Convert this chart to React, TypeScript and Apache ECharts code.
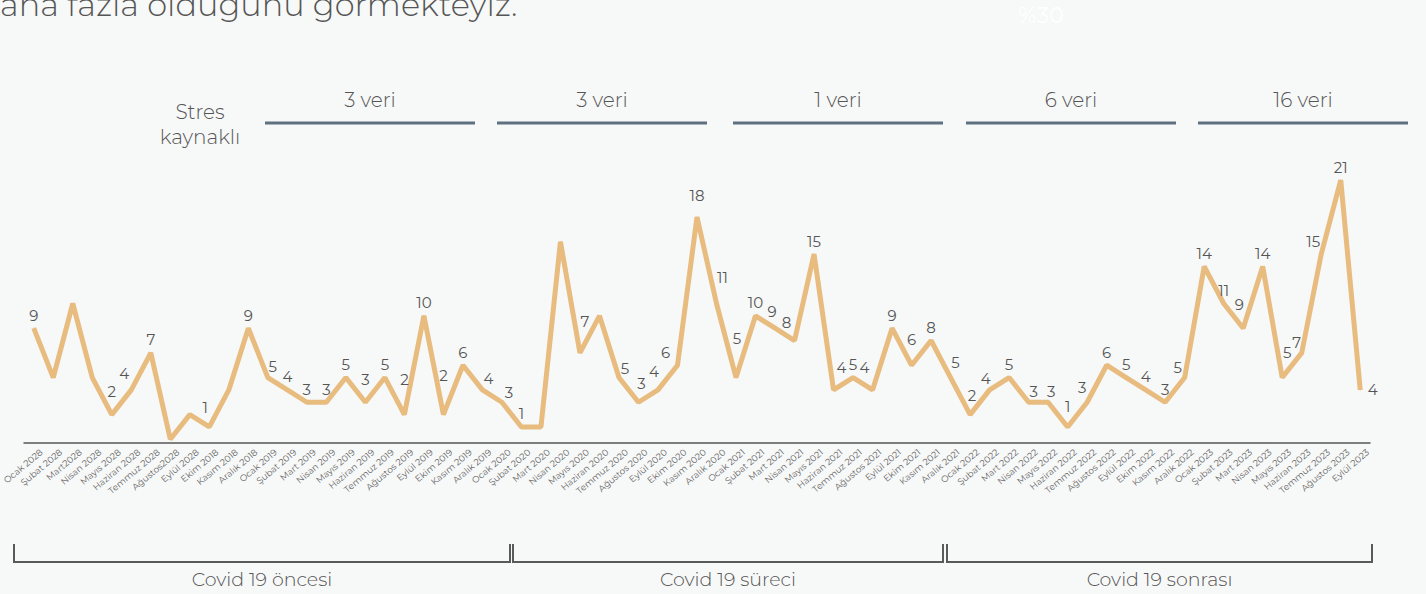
import React, { useEffect, useRef } from "react";
import * as echarts from "echarts";

const months: string[] = [
  "Ocak 2028", "Şubat 2028", "Mart2028", "Nisan 2028", "Mayıs 2028", "Haziran 2028", "Temmuz 2028", "Ağustos2028", "Eylül 2028", "Ekim 2018", "Kasım 2018", "Aralık 2018",
  "Ocak 2019", "Şubat 2019", "Mart 2019", "Nisan 2019", "Mayıs 2019", "Haziran 2019", "Temmuz 2019", "Ağustos 2019", "Eylül 2019", "Ekim 2019", "Kasım 2019", "Aralık 2019",
  "Ocak 2020", "Şubat 2020", "Mart 2020", "Nisan 2020", "Mayıs 2020", "Haziran 2020", "Temmuz 2020", "Ağustos 2020", "Eylül 2020", "Ekim 2020", "Kasım 2020", "Aralık 2020",
  "Ocak 2021", "Şubat 2021", "Mart 2021", "Nisan 2021", "Mayıs 2021", "Haziran 2021", "Temmuz 2021", "Ağustos 2021", "Eylül 2021", "Ekim 2021", "Kasım 2021", "Aralık 2021",
  "Ocak 2022", "Şubat 2022", "Mart 2022", "Nisan 2022", "Mayıs 2022", "Haziran 2022", "Temmuz 2022", "Ağustos 2022", "Eylül 2022", "Ekim 2022", "Kasım 2022", "Aralık 2022",
  "Ocak 2023", "Şubat 2023", "Mart 2023", "Nisan 2023", "Mayıs 2023", "Haziran 2023", "Temmuz 2023", "Ağustos 2023", "Eylül 2023",
];

const values2018: number[] = [9, 5, 11, 5, 2, 4, 7, 0, 2, 1, 4, 9];
const values2019: number[] = [5, 4, 3, 3, 5, 3, 5, 2, 10, 2, 6, 4];
const values2020: number[] = [3, 1, 1, 16, 7, 10, 5, 3, 4, 6, 18, 11];
const values2021: number[] = [5, 10, 9, 8, 15, 4, 5, 4, 9, 6, 8, 5];
const values2022: number[] = [2, 4, 5, 3, 3, 1, 3, 6, 5, 4, 3, 5];
const values2023: number[] = [14, 11, 9, 14, 5, 7, 15, 21, 4];

// points whose value label is not shown in the reference
const unlabeled: number[] = [1, 2, 3, 7, 8, 10, 26, 27, 29];

const groupHeaders: string[] = ["3 veri", "3 veri", "1 veri", "6 veri", "16 veri"];
const periods: string[] = ["Covid 19 öncesi", "Covid 19 süreci", "Covid 19 sonrası"];

// label nudges (dx, dy) to mimic hand placement
const labelNudge: Record<number, [number, number]> = {
  4: [0, -10], 5: [-7, -3], 9: [-4, -6], 12: [5, 2], 17: [0, -10], 19: [0, -22], 21: [0, -26],
  23: [6, 2], 24: [7, 3], 28: [5, -18], 30: [6, 4], 31: [3, -6], 32: [-4, -5], 33: [-12, 0],
  34: [0, -9], 35: [6, -13], 36: [1, -26], 38: [-3, -4], 39: [-8, -5], 41: [8, -9], 43: [-8, -9],
  45: [0, -13], 47: [5, -2], 48: [2, -6], 49: [-4, 2], 51: [5, 2], 52: [3, 2], 53: [0, -7],
  54: [-5, -2], 59: [-7, 3], 62: [-4, -11], 64: [5, -12], 65: [-5, 3], 66: [-8, 0],
};

const FONT = "Montserrat, 'Noto Sans', 'Open Sans', sans-serif";

export default function App() {
  const ref = useRef<HTMLDivElement>(null);

  useEffect(() => {
    if (!ref.current) return;
    const chart = echarts.init(ref.current, undefined, { renderer: "svg" });
    const values = [...values2018, ...values2019, ...values2020, ...values2021, ...values2022, ...values2023];
    const last = values.length - 1;
    const data = values.map((v, i) => {
      const n = labelNudge[i] || [0, 0];
      return {
        value: v,
        label: {
          show: !unlabeled.includes(i),
          position: i === last ? "right" : "top",
          offset: i === last ? [2, 0] : n,
        },
      };
    });

    const headerLines = [
      [265, 475], [497, 707], [733, 943], [966, 1176], [1198, 1408],
    ];
    const brackets = [
      [14, 510], [513, 943], [947, 1372],
    ];

    const graphics: any[] = [
      {
        type: "text", left: 0, top: -12,
        style: { text: "ana fazla olduğunu görmekteyiz.", fontSize: 32, fontFamily: FONT, fontWeight: 300, fill: "#555" },
      },
      {
        type: "text", x: 1041, y: 15,
        style: { text: "%30", fontSize: 22, fontFamily: FONT, fill: "#ffffff", align: "center", verticalAlign: "middle" },
      },
      {
        type: "text", x: 200, y: 112,
        style: { text: "Stres", fontSize: 20, fontFamily: FONT, fontWeight: 300, fill: "#555", align: "center", verticalAlign: "middle" },
      },
      {
        type: "text", x: 200, y: 137,
        style: { text: "kaynaklı", fontSize: 20, fontFamily: FONT, fontWeight: 300, fill: "#555", align: "center", verticalAlign: "middle" },
      },
    ];
    headerLines.forEach(([a, b], i) => {
      graphics.push({
        type: "line", shape: { x1: a, y1: 123, x2: b, y2: 123 },
        style: { stroke: "#5f7180", lineWidth: 3 },
      });
      graphics.push({
        type: "text", x: (a + b) / 2, y: 100,
        style: { text: groupHeaders[i], fontSize: 20, fontFamily: FONT, fontWeight: 300, fill: "#555", align: "center", verticalAlign: "middle" },
      });
    });
    brackets.forEach(([a, b], i) => {
      graphics.push({
        type: "polyline", shape: { points: [[a, 544], [a, 562], [b, 562], [b, 544]] },
        style: { stroke: "#5a5a5a", lineWidth: 2, fill: "none" },
      });
      graphics.push({
        type: "text", x: (a + b) / 2, y: 579,
        style: { text: periods[i], fontSize: 19, fontFamily: FONT, fontWeight: 300, fill: "#555", align: "center", verticalAlign: "middle" },
      });
    });

    chart.setOption({
      animation: false,
      backgroundColor: "#f7f8f8",
      textStyle: { fontFamily: FONT },
      grid: { left: 24, top: 143, width: 1346, height: 300, containLabel: false, outerBoundsMode: "none" },
      xAxis: {
        type: "category",
        data: months,
        boundaryGap: true,
        axisLine: { onZero: false, lineStyle: { color: "#555", width: 1.5 } },
        axisTick: { show: false },
        axisLabel: {
          interval: 0, rotate: 40, fontSize: 9, color: "#666", margin: 8,
          verticalAlign: "top", padding: [0, -6, 0, 0], fontFamily: FONT,
        },
        splitLine: { show: false },
      },
      yAxis: {
        type: "value",
        min: -0.3,
        max: 24,
        show: false,
        splitLine: { show: false },
      },
      series: [
        {
          type: "line",
          data,
          symbol: "circle",
          symbolSize: 1,
          itemStyle: { color: "#e8bb7f" },
          lineStyle: { color: "#e8bb7f", width: 5 },
          label: { fontSize: 15, color: "#555", distance: 5, fontFamily: FONT },
        },
      ],
      graphic: graphics,
    });
    return () => chart.dispose();
  }, []);

  return (
    <div
      ref={ref}
      style={{ position: "absolute", left: 0, top: 0, width: 1426, height: 594 }}
    />
  );
}
